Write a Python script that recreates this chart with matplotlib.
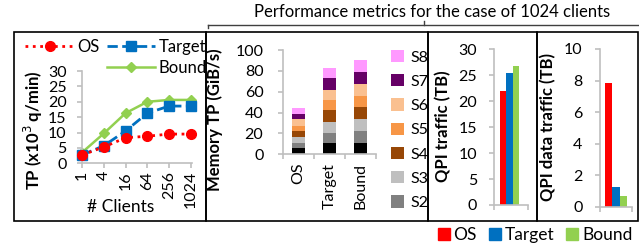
import matplotlib.pyplot as plt
import matplotlib.patches as mpatches
from matplotlib.lines import Line2D
import numpy as np

plt.rcParams['font.family'] = ['Lato', 'DejaVu Sans']

# Throughput vs number of clients (x10^3 q/min)
clients = ['1', '4', '16', '64', '256', '1024']
tp_os = [2.7, 5.3, 8.3, 8.8, 9.5, 9.5]
tp_target = [2.7, 5.7, 10.5, 16.3, 18.6, 18.6]
tp_bound = [3.5, 9.7, 16.3, 20.0, 20.6, 20.6]

# Memory throughput per socket (GiB/s), S1..S8
configs = ['OS', 'Target', 'Bound']
sockets = ['S1', 'S2', 'S3', 'S4', 'S5', 'S6', 'S7', 'S8']
mem_os = [5.8, 4.8, 5.7, 6.1, 4.8, 6.5, 4.8, 6.1]
mem_target = [10.6, 9.6, 11.2, 10.6, 10.2, 9.7, 10.9, 9.9]
mem_bound = [10.6, 11.8, 11.3, 12.1, 10.3, 11.2, 11.9, 10.8]

# QPI traffic (TB)
qpi = [22.0, 25.4, 26.7]
qpi_data = [7.87, 1.26, 0.67]

sock_colors = ['#000000', '#808080', '#BFBFBF', '#974706', '#F79646',
               '#FAC090', '#660066', '#FF99FF']
cfg_colors = ['#FF0000', '#0070C0', '#92D050']
GRAY = '#BFBFBF'

W, H = 639, 248
fig = plt.figure(figsize=(W / 100, H / 100), dpi=100)


def px(l, t, r, b):
    return [l / W, 1 - b / H, (r - l) / W, (b - t) / H]


def ftext(x, y, s, **kw):
    fig.text(x / W, 1 - y / H, s, **kw)


def style(ax):
    for s in ['top', 'right']:
        ax.spines[s].set_visible(False)
    for s in ['left', 'bottom']:
        ax.spines[s].set_color(GRAY)
        ax.spines[s].set_linewidth(1.2)
    ax.tick_params(colors=GRAY, labelcolor='black', labelsize=11.5,
                   length=3.6, width=1.2, pad=2)
    ax.tick_params(axis='y', pad=8.5)


# panel boxes
for l, r in [(14, 206), (206, 428), (428, 537), (537, 638)]:
    fig.patches.append(mpatches.Rectangle((l / W, 1 - 221 / H), (r - l) / W, (221 - 32) / H,
                                          transform=fig.transFigure, fill=False,
                                          edgecolor='black', lw=1.2))

# bracket + title
fig.add_artist(Line2D([208 / W, 638 / W], [1 - 25 / H] * 2, color='#404040', lw=1,
                      transform=fig.transFigure))
fig.add_artist(Line2D([208 / W, 208 / W], [1 - 25 / H, 1 - 28 / H], color='#404040', lw=1,
                      transform=fig.transFigure))
fig.add_artist(Line2D([424 / W, 424 / W], [1 - 25 / H, 1 - 21 / H], color='#404040', lw=1,
                      transform=fig.transFigure))
ftext(432, 12, 'Performance metrics for the case of 1024 clients',
      ha='center', va='center', fontsize=12)

# panel 1: throughput lines
ax1 = fig.add_axes(px(82, 71, 192, 163.3))
x = np.arange(len(clients))
l_os, = ax1.plot(x, tp_os, ':', color=cfg_colors[0], marker='o', ms=7, lw=2,
                 clip_on=False, zorder=3)
l_tg, = ax1.plot(x, tp_target, '--', color=cfg_colors[1], marker='s', ms=6.5, lw=2,
                 clip_on=False, zorder=2)
l_bd, = ax1.plot(x, tp_bound, '-', color=cfg_colors[2], marker='D', ms=5, lw=1.8,
                 clip_on=False, zorder=1)
ax1.set_xlim(0, 5.05)
ax1.set_ylim(0, 30)
ax1.set_yticks(range(0, 31, 5))
ax1.set_xticks(x)
ax1.set_xticklabels(clients, rotation=90)
style(ax1)
ax1.tick_params(axis='y', pad=7.5)
ftext(121, 207, '# Clients', ha='center', va='center', fontsize=12.5)
ftext(33, 130, 'TP (x10$^3$ q/min)', ha='center', va='center', rotation=90,
      fontsize=12, fontweight='bold')
blank = Line2D([], [], alpha=0)
fig.legend([l_os, blank, l_tg, l_bd], ['OS', '', 'Target', 'Bound'], ncol=2,
           loc='upper left', bbox_to_anchor=(17 / W, 1 - 31 / H), frameon=False,
           fontsize=12, handlelength=2.9, columnspacing=0.45, handletextpad=0.2,
           labelspacing=0.28, borderpad=0)

# panel 2: stacked memory throughput
ax2 = fig.add_axes(px(283, 50, 376, 154.3))
xc = np.arange(len(configs))
mem = np.array([mem_os, mem_target, mem_bound])
bottom = np.zeros(len(configs))
handles = []
for i, s in enumerate(sockets):
    b = ax2.bar(xc, mem[:, i], 0.39, bottom=bottom, color=sock_colors[i], label=s)
    handles.append(b)
    bottom += mem[:, i]
ax2.set_xlim(-0.5, 2.5)
ax2.set_ylim(0, 100)
ax2.set_yticks(range(0, 101, 20))
ax2.set_xticks(xc)
ax2.set_xticklabels(configs, rotation=90)
ax2.set_xticks([-0.5, 0.5, 1.5, 2.5], minor=True)
style(ax2)
ax2.tick_params(axis='y', pad=10.5)
ax2.tick_params(axis='x', which='major', length=0, pad=6)
ax2.tick_params(axis='x', which='minor', length=3.6, color=GRAY, width=1.2)
ftext(215, 120, 'Memory TP (GiB/s)', ha='center', va='center', rotation=90,
      fontsize=12, fontweight='bold')
fig.legend(handles[:0:-1], sockets[:0:-1], loc='upper left',
           bbox_to_anchor=(383 / W, 1 - 42 / H), frameon=False, fontsize=11.5,
           handlelength=0.8, handleheight=0.8, handletextpad=0.4, labelspacing=0.6,
           borderpad=0)

# panel 3: QPI traffic
ax3 = fig.add_axes(px(494, 49.3, 528, 205))
w = 0.19
for i in range(3):
    ax3.bar(-0.04 + (i - 1) * w, qpi[i], w, color=cfg_colors[i])
ax3.set_xlim(-0.5, 0.5)
ax3.set_ylim(0, 30)
ax3.set_yticks(range(0, 31, 5))
ax3.set_xticks([-0.5, 0.5])
ax3.set_xticklabels([])
style(ax3)
ftext(443, 126, 'QPI traffic (TB)', ha='center', va='center', rotation=90,
      fontsize=12, fontweight='bold')

# panel 4: QPI data traffic
ax4 = fig.add_axes(px(600, 49, 632, 207))
w = 0.23
for i in range(3):
    ax4.bar((i - 1) * w, qpi_data[i], w, color=cfg_colors[i])
ax4.set_xlim(-0.5, 0.5)
ax4.set_ylim(0, 10)
ax4.set_yticks(range(0, 11, 2))
ax4.set_xticks([-0.5, 0.5])
ax4.set_xticklabels([])
style(ax4)
ax4.tick_params(axis='y', pad=9)
ftext(548, 127, 'QPI data traffic (TB)', ha='center', va='center', rotation=90,
      fontsize=12, fontweight='bold')

# shared legend for configurations
cfg_handles = [mpatches.Patch(color=c) for c in cfg_colors]
fig.legend(cfg_handles, configs, ncol=3, loc='center', bbox_to_anchor=(535 / W, 1 - 235 / H),
           frameon=False, fontsize=12.5, handlelength=0.7, handleheight=0.7,
           handletextpad=0.2, columnspacing=0.7, borderpad=0)

fig.savefig('out.png', dpi=100)
